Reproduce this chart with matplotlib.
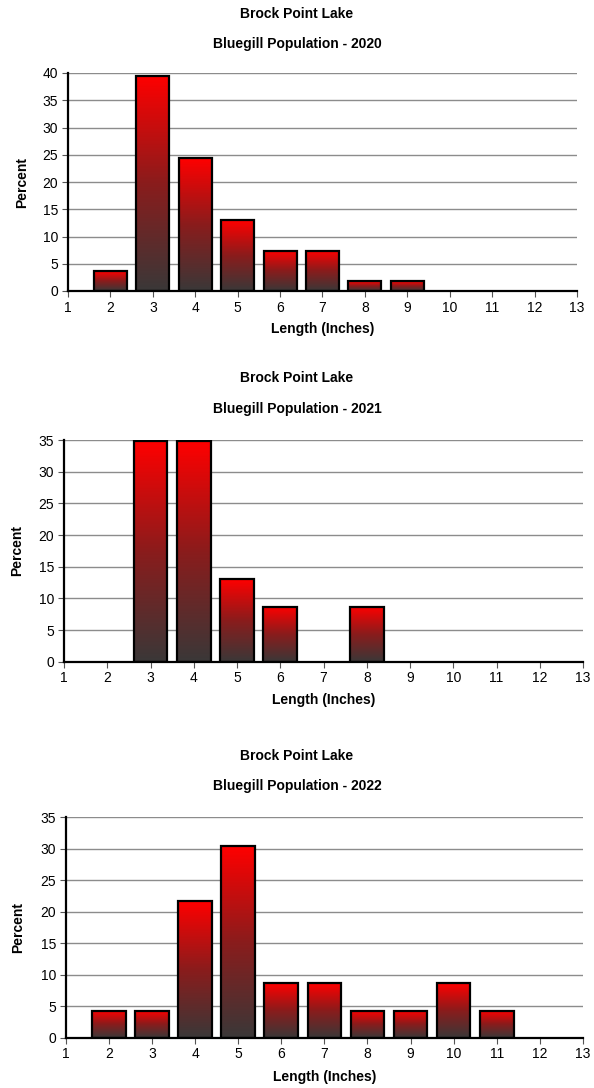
import numpy as np
import matplotlib
matplotlib.use("Agg")
import matplotlib.pyplot as plt
from matplotlib.colors import LinearSegmentedColormap
from matplotlib.patches import Rectangle

plt.rcParams['font.family'] = ['Liberation Sans', 'DejaVu Sans']

lake = "Brock Point Lake"
years = ["2020", "2021", "2022"]

lengths_2020 = [2, 3, 4, 5, 6, 7, 8, 9]
percent_2020 = [3.6, 39.5, 24.4, 13.0, 7.4, 7.4, 1.8, 1.8]

lengths_2021 = [3, 4, 5, 6, 8]
percent_2021 = [34.8, 34.8, 13.0, 8.7, 8.7]

lengths_2022 = [2, 3, 4, 5, 6, 7, 8, 9, 10, 11]
percent_2022 = [4.3, 4.3, 21.7, 30.4, 8.7, 8.7, 4.3, 4.3, 8.7, 4.3]

x_ticks = list(range(1, 14))
y_max = [40, 35, 35]

W, H = 594, 1088
fig = plt.figure(figsize=(W / 100, H / 100), dpi=100)

def fx(px):
    return px / W

def fy(py):
    return 1 - py / H

# panel boxes in pixels: left, right, top, bottom
panels = [
    (68, 577, 73, 291),
    (64, 583, 440, 661.7),
    (65.7, 583, 817.3, 1037.7),
]
title_rows = [(14, 44), (378, 409), (756, 786)]
xlabel_rows = [329, 700, 1077]
ylabel_cols = [22, 17, 18]

data = [(lengths_2020, percent_2020), (lengths_2021, percent_2021),
        (lengths_2022, percent_2022)]

grad = LinearSegmentedColormap.from_list("bar_grad", ["#3a3838", "#8a1c1c", "#ff0000"])
grad_img = np.linspace(0, 1, 256).reshape(-1, 1)

bar_w = 0.78

for i, ((l, r, t, b), (xs, ys)) in enumerate(zip(panels, data)):
    ax = fig.add_axes([fx(l), fy(b), fx(r - l), fy(t) - fy(b)])
    for x, y in zip(xs, ys):
        ax.imshow(grad_img, cmap=grad, origin="lower", aspect="auto",
                  extent=[x - bar_w / 2, x + bar_w / 2, 0, y], zorder=2,
                  interpolation="bilinear")
        ax.add_patch(Rectangle((x - bar_w / 2, 0), bar_w, y, fill=False,
                               edgecolor="black", linewidth=1.6, zorder=3))
    ax.set_xlim(1, 13)
    ax.set_ylim(0, y_max[i])
    ax.set_xticks(x_ticks)
    ax.set_yticks(np.arange(0, y_max[i] + 1, 5))
    ax.tick_params(axis="both", labelsize=10, length=4, width=0.8,
                   color="#555555", pad=3)
    ax.yaxis.grid(True, color="#8c8c8c", linewidth=1.0)
    ax.set_axisbelow(True)
    for s in ("top", "right"):
        ax.spines[s].set_visible(False)
    for s in ("left", "bottom"):
        ax.spines[s].set_linewidth(1.6)
        ax.spines[s].set_color("black")
        ax.spines[s].set_zorder(4)

    ty1, ty2 = title_rows[i]
    fig.text(0.5, fy(ty1), lake, ha="center", va="center",
             fontsize=10, fontweight="bold")
    fig.text(0.5, fy(ty2), f"Bluegill Population - {years[i]}", ha="center",
             va="center", fontsize=10, fontweight="bold")
    fig.text(fx((l + r) / 2), fy(xlabel_rows[i]), "Length (Inches)",
             ha="center", va="center", fontsize=10, fontweight="bold")
    fig.text(fx(ylabel_cols[i]), fy((t + b) / 2), "Percent", ha="center",
             va="center", rotation=90, fontsize=10, fontweight="bold")

fig.savefig("out.png", dpi=100, facecolor="white")
